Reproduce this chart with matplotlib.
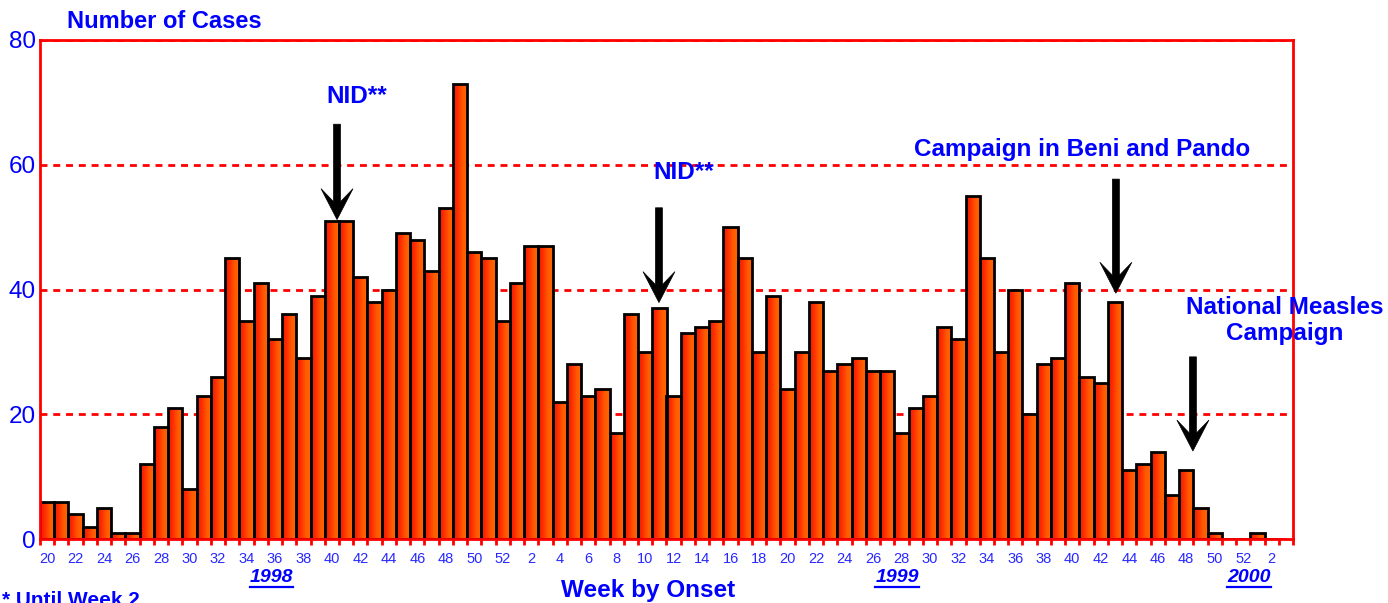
import numpy as np
import matplotlib
matplotlib.use("Agg")
import matplotlib.pyplot as plt
from matplotlib.colors import LinearSegmentedColormap
from matplotlib.lines import Line2D
from matplotlib.patches import Polygon
from matplotlib.transforms import IdentityTransform

plt.rcParams['font.family'] = ['Liberation Sans', 'DejaVu Sans']

# weekly measles cases by week of onset
weeks_1998 = list(range(20, 53))
cases_1998 = [6, 6, 4, 2, 5, 1, 1, 12, 18, 21, 8, 23, 26, 45, 35, 41, 32,
              36, 29, 39, 51, 51, 42, 38, 40, 49, 48, 43, 53, 73, 46, 45, 35]
weeks_1999 = list(range(1, 53))
cases_1999 = [41, 47, 47, 22, 28, 23, 24, 17, 36, 30, 37, 23, 33, 34, 35, 50,
              45, 30, 39, 24, 30, 38, 27, 28, 29, 27, 27, 17, 21, 23, 34, 32,
              55, 45, 30, 40, 20, 28, 29, 41, 26, 25, 38, 11, 12, 14, 7, 11,
              5, 1, 0, 0]
weeks_2000 = [1, 2]
cases_2000 = [1, 0]

years = ['1998', '1999', '2000']
year_label_x = [15.76, 59.7, 84.4]

# annotations: text, text position, arrow x, arrow tail, arrow tip
notes = ['NID**', 'NID**', 'Campaign in Beni and Pando', 'National Measles\nCampaign']
note_xy = [(21.76, 71.0), (44.7, 58.8), (72.7, 62.5), (86.9, 35.0)]
arrow_x = [20.36, 42.97, 75.06, 80.47]
arrow_tail = [66.5, 53.1, 57.7, 29.2]
arrow_tip = [51.2, 37.9, 39.4, 14.1]

weeks = weeks_1998 + weeks_1999 + weeks_2000
cases = cases_1998 + cases_1999 + cases_2000
x = np.arange(len(cases))
n_slots = len(cases) + 1  # axis runs one empty week past the data

blue = '#0000ff'
red = '#ff0000'

fig = plt.figure(figsize=(13.88, 6.03), dpi=100)
ax = fig.add_axes([40 / 1388, 1 - 539 / 603, 1253 / 1388, 499 / 603])

bars = ax.bar(x, cases, width=1.0, facecolor='none', edgecolor='black',
              linewidth=2, zorder=3)

# horizontal red->orange gradient inside each bar
grad_cmap = LinearSegmentedColormap.from_list(
    'bar', ['#ee1400', '#ff3000', '#ff5a00', '#ff6600'])
grad = np.linspace(0, 1, 64).reshape(1, -1)
for b in bars:
    h = b.get_height()
    if h <= 0:
        continue
    im = ax.imshow(grad, cmap=grad_cmap, aspect='auto', zorder=2,
                   extent=[b.get_x(), b.get_x() + b.get_width(), 0, h],
                   interpolation='bilinear')
    im.set_clip_path(b)

ax.set_xlim(-0.5, n_slots - 0.5)
ax.set_ylim(0, 80)

# y axis
ax.set_yticks([0, 20, 40, 60, 80])
ax.tick_params(axis='y', length=0, labelsize=17.5, labelcolor=blue, pad=3)
ax.yaxis.grid(True, color=red, linestyle=(0, (2.5, 2.1)), linewidth=2, zorder=1)
ax.set_axisbelow(True)

# x axis: ticks at week boundaries, labels every second week
ax.set_xticks(np.arange(n_slots + 1) - 0.5)
ax.set_xticklabels([])
ax.tick_params(axis='x', which='major', length=4, width=2, color=red, direction='out')
lab_pos = [i for i, w in enumerate(weeks) if w % 2 == 0]
ax.set_xticks(lab_pos, minor=True)
ax.set_xticklabels([str(weeks[i]) for i in lab_pos], minor=True)
ax.tick_params(axis='x', which='minor', length=0, labelsize=10.5,
               labelcolor='#2828ff', pad=9.5)

for s in ax.spines.values():
    s.set_color(red)
    s.set_linewidth(2)
    s.set_zorder(4)

for txt, (tx, ty) in zip(notes, note_xy):
    ax.text(tx, ty, txt, ha='center', va='center', fontsize=17.5,
            fontweight='bold', color=blue, linespacing=1.2, clip_on=False, zorder=6)

# year labels under the axis, underlined
year_texts = []
for yr, yx in zip(years, year_label_x):
    t = ax.text(yx, -6.1, yr, ha='center', va='center', fontsize=14,
                fontweight='bold', fontstyle='italic', color=blue, clip_on=False)
    year_texts.append(t)

fig.text(67 / 1388, 1 - 21.5 / 603, 'Number of Cases', ha='left', va='center',
         fontsize=17, fontweight='bold', color=blue)
fig.text(648 / 1388, 1 - 591 / 603, 'Week by Onset', ha='center', va='center',
         fontsize=17.5, fontweight='bold', color=blue)
fig.text(2 / 1388, 1 - 591 / 603, '* Until Week 2', ha='left', va='top',
         fontsize=15, fontweight='bold', color=blue)

fig.canvas.draw()

# notched block arrows, built in pixels from the data positions
for ax_x, y0, y1 in zip(arrow_x, arrow_tail, arrow_tip):
    px, tip_y = ax.transData.transform((ax_x, y1))
    _, tail_y = ax.transData.transform((ax_x, y0))
    L = tail_y - tip_y
    rel = [(0, 0), (16, 31), (3.5, 18), (3.5, L), (-3.5, L), (-3.5, 18), (-16, 31)]
    verts = [(px + dx, tip_y + dy) for dx, dy in rel]
    ax.add_patch(Polygon(verts, closed=True, facecolor='black', edgecolor='black',
                         linewidth=0.5, transform=IdentityTransform(),
                         clip_on=False, zorder=5))

r = fig.canvas.get_renderer()
for t in year_texts:
    bb = t.get_window_extent(r)
    uy = 603 - 587
    fig.add_artist(Line2D([bb.x0, bb.x1], [uy, uy], color=blue, linewidth=1.6,
                          transform=IdentityTransform()))

fig.savefig('out.png', dpi=100, facecolor='white')
